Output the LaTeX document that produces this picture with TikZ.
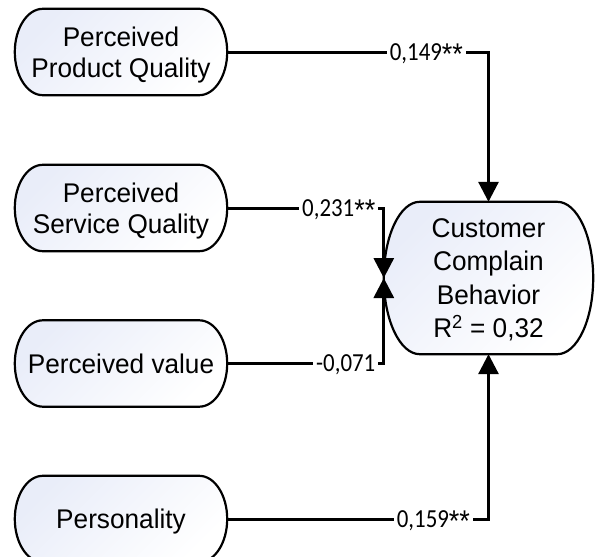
\documentclass[tikz,border=0pt]{standalone}
\usepackage{fontspec}
\setmainfont[FakeStretch=0.97]{Liberation Sans}
\newfontfamily\lblfont[FakeStretch=0.88]{Carlito}
\newfontfamily\astfont[FakeStretch=0.9]{Liberation Sans}
\usetikzlibrary{arrows.meta,backgrounds,calc}
\definecolor{shadeblue}{RGB}{233,237,249}
\newcommand\stars{\raisebox{-4pt}{\astfont\fontsize{30}{30}\selectfont **}}
\tikzset{
  box/.style={align=center, inner sep=0pt, text depth=0pt,
    font=\fontsize{27}{31}\selectfont},
  bigbox/.style={box, font=\fontsize{27}{33.5}\selectfont},
  conn/.style={line width=3pt, -{Triangle[width=20pt,length=20pt]}},
  lbl/.style={fill=white, inner xsep=3pt, inner ysep=1pt,
    font=\lblfont\fontsize{26}{28}\selectfont, anchor=base east, yshift=-8.2pt},
  outline/.style={draw=black, line width=2.2pt, top color=shadeblue,
    bottom color=white, shading angle=45}
}
\newcommand\stadium[2]{%
  \path[outline] let \p1=(#1.north west), \p2=(#1.south east) in
    (\x1+#2pt,\y1) -- (\x2-#2pt,\y1)
    arc[start angle=90,end angle=-90,x radius=#2pt,y radius={(\y1-\y2)/2}]
    -- (\x1+#2pt,\y2)
    arc[start angle=-90,end angle=-270,x radius=#2pt,y radius={(\y1-\y2)/2}]
    -- cycle;}
\begin{document}
\begin{tikzpicture}[x=1pt,y=-1pt]
\useasboundingbox (0,0) rectangle (595,557);
\node[box, minimum width=212pt, minimum height=86pt] (ppq) at (121,52) {Perceived\\Product Quality};
\node[box, minimum width=212pt, minimum height=86pt] (psq) at (121,208) {Perceived\\Service Quality};
\node[box, minimum width=212pt, minimum height=86pt] (pv) at (121,363.5) {Perceived value};
\node[box, minimum width=212pt, minimum height=86pt] (per) at (121,519) {Personality};
\node[bigbox, minimum width=209pt, minimum height=152pt] (ccb) at (488.5,278) {Customer\\Complain\\Behavior\\R\textsuperscript{2} = 0,32};
\begin{scope}[on background layer]
  \stadium{ppq}{28}
  \stadium{psq}{28}
  \stadium{pv}{28}
  \stadium{per}{28}
  \stadium{ccb}{36}
\end{scope}
\draw[conn] (ppq.east) -| (ccb.north) node[lbl,pos=0.5,xshift=-21pt] {0,149\stars};
\draw[conn] (psq.east) -| (ccb.west) node[lbl,pos=0.5,xshift=-4pt] {0,231\stars};
\draw[conn] (pv.east) -| (ccb.west) node[lbl,pos=0.5,xshift=-4pt] {-0,071};
\draw[conn] (per.east) -| (ccb.south) node[lbl,pos=0.5,xshift=-14pt] {0,159\stars};
\end{tikzpicture}
\end{document}
